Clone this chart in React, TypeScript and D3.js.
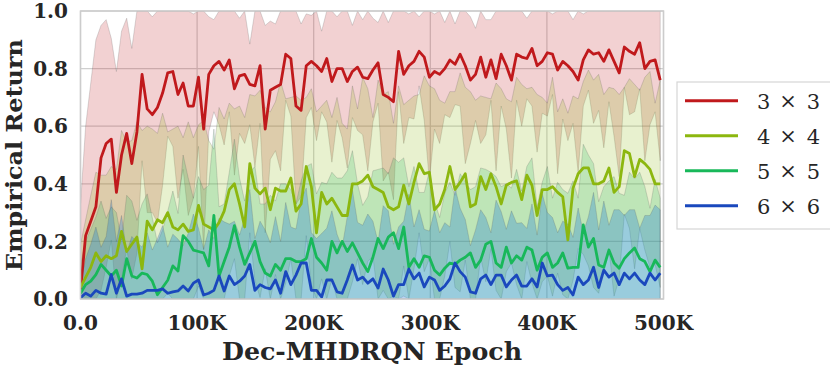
import * as d3 from "d3";

// mean empirical return per logged epoch, one array per grid size
const ret3x3 = [
  0.03, 0.22, 0.27, 0.32, 0.49, 0.54, 0.555, 0.37, 0.5, 0.575, 0.47, 0.58,
  0.78, 0.66, 0.64, 0.665, 0.715, 0.785, 0.79, 0.71, 0.75, 0.67, 0.67, 0.77,
  0.59, 0.78, 0.81, 0.825, 0.795, 0.83, 0.73, 0.775, 0.78, 0.745, 0.74, 0.81,
  0.59, 0.725, 0.735, 0.745, 0.85, 0.835, 0.67, 0.655, 0.81, 0.825, 0.81, 0.79,
  0.835, 0.755, 0.8, 0.8, 0.755, 0.79, 0.805, 0.77, 0.765, 0.795, 0.82, 0.71,
  0.7, 0.685, 0.86, 0.78, 0.81, 0.825, 0.86, 0.84, 0.77, 0.79, 0.78, 0.8,
  0.83, 0.815, 0.85, 0.81, 0.76, 0.78, 0.84, 0.77, 0.83, 0.765, 0.85, 0.81,
  0.76, 0.85, 0.84, 0.835, 0.87, 0.81, 0.825, 0.855, 0.85, 0.795, 0.825, 0.81,
  0.79, 0.76, 0.83, 0.865, 0.85, 0.855, 0.825, 0.865, 0.825, 0.785, 0.875, 0.86,
  0.85, 0.89, 0.8, 0.825, 0.83, 0.76,
];
const ret4x4 = [
  0.04, 0.075, 0.11, 0.16, 0.13, 0.15, 0.14, 0.15, 0.235, 0.165, 0.19, 0.215,
  0.105, 0.27, 0.24, 0.275, 0.265, 0.3, 0.25, 0.24, 0.26, 0.235, 0.24, 0.325,
  0.26, 0.25, 0.24, 0.265, 0.305, 0.38, 0.4, 0.33, 0.25, 0.47, 0.385, 0.365,
  0.385, 0.31, 0.385, 0.375, 0.375, 0.42, 0.305, 0.33, 0.46, 0.39, 0.23, 0.37,
  0.33, 0.35, 0.32, 0.29, 0.29, 0.4, 0.4, 0.41, 0.43, 0.39, 0.38, 0.37,
  0.32, 0.31, 0.32, 0.395, 0.33, 0.405, 0.47, 0.435, 0.44, 0.31, 0.33, 0.38,
  0.46, 0.38, 0.405, 0.435, 0.32, 0.33, 0.425, 0.38, 0.435, 0.39, 0.33, 0.395,
  0.405, 0.41, 0.345, 0.43, 0.395, 0.29, 0.38, 0.38, 0.39, 0.37, 0.355, 0.205,
  0.385, 0.435, 0.455, 0.455, 0.4, 0.4, 0.41, 0.455, 0.37, 0.39, 0.515, 0.505,
  0.425, 0.485, 0.47, 0.45, 0.4, 0.4,
];
const ret5x5 = [
  0.02, 0.05, 0.062, 0.085, 0.12, 0.1, 0.08, 0.1, 0.045, 0.14, 0.08, 0.073,
  0.09, 0.085, 0.062, 0.015, 0.04, 0.065, 0.115, 0.097, 0.22, 0.2, 0.17, 0.165,
  0.16, 0.115, 0.29, 0.08, 0.13, 0.18, 0.255, 0.18, 0.12, 0.16, 0.2, 0.13,
  0.09, 0.08, 0.12, 0.1, 0.14, 0.14, 0.13, 0.13, 0.14, 0.21, 0.145, 0.125,
  0.1, 0.2, 0.16, 0.2, 0.165, 0.195, 0.16, 0.125, 0.095, 0.145, 0.21, 0.175,
  0.215, 0.23, 0.175, 0.25, 0.11, 0.14, 0.11, 0.15, 0.145, 0.1, 0.083, 0.107,
  0.125, 0.12, 0.135, 0.145, 0.16, 0.11, 0.135, 0.19, 0.2, 0.125, 0.11, 0.18,
  0.125, 0.15, 0.135, 0.18, 0.17, 0.1, 0.145, 0.16, 0.11, 0.125, 0.16, 0.107,
  0.11, 0.11, 0.257, 0.18, 0.21, 0.118, 0.11, 0.17, 0.125, 0.107, 0.14, 0.16,
  0.177, 0.14, 0.13, 0.095, 0.135, 0.11,
];
const ret6x6 = [
  0.005, 0.02, 0.01, 0.03, 0.02, 0.017, 0.085, 0.02, 0.07, 0.01, 0.017, 0.017,
  0.02, 0.03, 0.03, 0.03, 0.035, 0.02, 0.025, 0.028, 0.045, 0.028, 0.055, 0.066,
  0.014, 0.02, 0.03, 0.08, 0.028, 0.08, 0.05, 0.062, 0.08, 0.12, 0.03, 0.05,
  0.04, 0.035, 0.066, 0.02, 0.095, 0.05, 0.083, 0.125, 0.125, 0.03, 0.03, 0.007,
  0.066, 0.066, 0.025, 0.02, 0.066, 0.118, 0.066, 0.076, 0.055, 0.07, 0.038, 0.104,
  0.066, 0.01, 0.05, 0.05, 0.104, 0.07, 0.09, 0.042, 0.076, 0.066, 0.03, 0.045,
  0.07, 0.125, 0.095, 0.076, 0.025, 0.02, 0.07, 0.083, 0.05, 0.083, 0.083, 0.042,
  0.066, 0.083, 0.045, 0.045, 0.07, 0.042, 0.125, 0.08, 0.083, 0.05, 0.03, 0.04,
  0.014, 0.076, 0.05, 0.066, 0.11, 0.04, 0.1, 0.076, 0.09, 0.05, 0.09, 0.07,
  0.09, 0.066, 0.05, 0.09, 0.066, 0.09,
];

// spread (std) around each mean
const sd3x3 = [
  0.3, 0.38, 0.48, 0.58, 0.46, 0.43, 0.35, 0.42, 0.43, 0.4, 0.4, 0.42,
  0.3, 0.36, 0.34, 0.4, 0.32, 0.22, 0.26, 0.36, 0.3, 0.38, 0.32, 0.24,
  0.42, 0.2, 0.16, 0.22, 0.26, 0.18, 0.3, 0.2, 0.24, 0.14, 0.28, 0.2,
  0.36, 0.24, 0.22, 0.3, 0.16, 0.2, 0.34, 0.3, 0.18, 0.16, 0.26, 0.14,
  0.22, 0.28, 0.18, 0.24, 0.3, 0.16, 0.22, 0.2, 0.32, 0.18, 0.14, 0.3,
  0.26, 0.34, 0.14, 0.24, 0.18, 0.2, 0.12, 0.22, 0.36, 0.2, 0.24, 0.16,
  0.2, 0.14, 0.18, 0.34, 0.22, 0.16, 0.3, 0.2, 0.14, 0.32, 0.18, 0.22,
  0.34, 0.16, 0.24, 0.14, 0.2, 0.3, 0.18, 0.22, 0.14, 0.36, 0.2, 0.26,
  0.18, 0.32, 0.16, 0.14, 0.24, 0.2, 0.3, 0.18, 0.26, 0.36, 0.14, 0.22,
  0.2, 0.16, 0.32, 0.22, 0.18, 0.28,
];
const sd4x4 = [
  0.15, 0.2, 0.25, 0.28, 0.3, 0.28, 0.32, 0.3, 0.35, 0.38, 0.36, 0.4,
  0.48, 0.33, 0.35, 0.3, 0.38, 0.28, 0.34, 0.36, 0.3, 0.38, 0.32, 0.28,
  0.36, 0.3, 0.28, 0.4, 0.32, 0.3, 0.26, 0.34, 0.38, 0.24, 0.32, 0.36,
  0.28, 0.34, 0.3, 0.38, 0.32, 0.28, 0.4, 0.36, 0.24, 0.34, 0.42, 0.3,
  0.36, 0.28, 0.38, 0.32, 0.3, 0.34, 0.26, 0.36, 0.3, 0.24, 0.38, 0.34,
  0.4, 0.3, 0.42, 0.28, 0.36, 0.3, 0.24, 0.34, 0.3, 0.42, 0.36, 0.3,
  0.26, 0.34, 0.38, 0.3, 0.4, 0.36, 0.28, 0.32, 0.26, 0.36, 0.4, 0.3,
  0.28, 0.36, 0.4, 0.3, 0.34, 0.42, 0.32, 0.3, 0.38, 0.28, 0.34, 0.44,
  0.32, 0.26, 0.3, 0.34, 0.36, 0.38, 0.3, 0.28, 0.36, 0.32, 0.22, 0.26,
  0.32, 0.24, 0.3, 0.34, 0.28, 0.36,
];
const sd5x5 = [
  0.1, 0.15, 0.18, 0.2, 0.22, 0.18, 0.24, 0.2, 0.16, 0.22, 0.26, 0.2,
  0.24, 0.28, 0.22, 0.18, 0.2, 0.24, 0.26, 0.2, 0.28, 0.22, 0.18, 0.26,
  0.22, 0.28, 0.3, 0.24, 0.2, 0.26, 0.3, 0.24, 0.22, 0.28, 0.26, 0.2,
  0.24, 0.28, 0.22, 0.3, 0.26, 0.24, 0.2, 0.28, 0.32, 0.26, 0.22, 0.28,
  0.3, 0.24, 0.26, 0.22, 0.28, 0.32, 0.24, 0.2, 0.26, 0.3, 0.24, 0.28,
  0.22, 0.26, 0.3, 0.24, 0.28, 0.32, 0.26, 0.22, 0.3, 0.24, 0.2, 0.26,
  0.28, 0.24, 0.3, 0.26, 0.22, 0.28, 0.32, 0.26, 0.24, 0.3, 0.28, 0.22,
  0.26, 0.3, 0.24, 0.28, 0.32, 0.22, 0.26, 0.3, 0.24, 0.28, 0.22, 0.26,
  0.3, 0.24, 0.28, 0.32, 0.26, 0.22, 0.28, 0.24, 0.3, 0.26, 0.22, 0.28,
  0.24, 0.3, 0.26, 0.22, 0.28, 0.24,
];
const sd6x6 = [
  0.05, 0.12, 0.18, 0.22, 0.16, 0.2, 0.26, 0.18, 0.22, 0.15, 0.2, 0.18,
  0.16, 0.2, 0.14, 0.18, 0.22, 0.16, 0.2, 0.18, 0.14, 0.2, 0.24, 0.18,
  0.16, 0.22, 0.18, 0.2, 0.24, 0.18, 0.22, 0.16, 0.2, 0.26, 0.18, 0.22,
  0.2, 0.16, 0.22, 0.18, 0.24, 0.2, 0.16, 0.22, 0.26, 0.2, 0.18, 0.22,
  0.18, 0.24, 0.2, 0.16, 0.22, 0.26, 0.2, 0.18, 0.24, 0.2, 0.16, 0.22,
  0.24, 0.18, 0.2, 0.22, 0.26, 0.18, 0.22, 0.2, 0.16, 0.24, 0.2, 0.22,
  0.18, 0.26, 0.22, 0.2, 0.16, 0.22, 0.24, 0.2, 0.18, 0.26, 0.22, 0.2,
  0.24, 0.18, 0.22, 0.2, 0.26, 0.18, 0.24, 0.22, 0.2, 0.18, 0.24, 0.22,
  0.2, 0.24, 0.18, 0.22, 0.26, 0.2, 0.24, 0.18, 0.22, 0.26, 0.2, 0.24,
  0.22, 0.18, 0.24, 0.2, 0.26, 0.22,
];

const LOG_EVERY = 4400; // epochs between logged points
const legendLabels = ["3 × 3", "4 × 4", "5 × 5", "6 × 6"];
const xTicks = [0, 100000, 200000, 300000, 400000, 500000];
const xTickLabels = ["0.0", "100K", "200K", "300K", "400K", "500K"];
const yTicks = [0, 0.2, 0.4, 0.6, 0.8, 1.0];
const yTickLabels = ["0.0", "0.2", "0.4", "0.6", "0.8", "1.0"];

const series = [
  { means: ret3x3, sd: sd3x3, line: "#c0191c", fill: "#c0191c", fillOpacity: 0.2 },
  { means: ret4x4, sd: sd4x4, line: "#8cb70f", fill: "#8cb70f", fillOpacity: 0.2 },
  { means: ret5x5, sd: sd5x5, line: "#18b85a", fill: "#18b85a", fillOpacity: 0.2 },
  { means: ret6x6, sd: sd6x6, line: "#1a48bd", fill: "#1878dc", fillOpacity: 0.3 },
];

const FONT = "DejaVu Serif, serif";
const INK = "#262626";

export default function App() {
  const W = 830;
  const H = 367;
  const left = 80.5, right = 663.5, top = 11, bottom = 299;

  const x = d3.scaleLinear().domain([0, 500000]).range([left, right]);
  const y = d3.scaleLinear().domain([0, 1]).range([bottom, top]);
  const clamp = (v: number) => Math.max(0, Math.min(1, v));

  const line = d3
    .line<number>()
    .x((_, i) => x(i * LOG_EVERY))
    .y((d) => y(d));

  const textStyle = { fontFamily: FONT, fontWeight: 700 };

  return (
    <svg
      width={W}
      height={H}
      style={{ position: "absolute", left: 0, top: 0, background: "#fff" }}
    >
      <defs>
        <clipPath id="plot">
          <rect x={left} y={top} width={right - left} height={bottom - top} />
        </clipPath>
      </defs>

      {/* grid */}
      <g stroke="#cfcfcf" strokeWidth={1.2}>
        {xTicks.map((t) => (
          <line key={"gx" + t} x1={x(t)} x2={x(t)} y1={top} y2={bottom} />
        ))}
        {yTicks.map((t) => (
          <line key={"gy" + t} x1={left} x2={right} y1={y(t)} y2={y(t)} />
        ))}
      </g>

      {/* bands */}
      <g clipPath="url(#plot)">
        {series.map((s, k) => {
          const area = d3
            .area<number>()
            .x((_, i) => x(i * LOG_EVERY))
            .y0((d, i) => y(clamp(d - s.sd[i])))
            .y1((d, i) => y(clamp(d + s.sd[i])));
          return (
            <path
              key={"band" + k}
              d={area(s.means) || ""}
              fill={s.fill}
              fillOpacity={s.fillOpacity}
              stroke="#555"
              strokeOpacity={0.3}
              strokeWidth={0.7}
            />
          );
        })}
        {series.map((s, k) => (
          <path
            key={"line" + k}
            d={line(s.means) || ""}
            fill="none"
            stroke={s.line}
            strokeWidth={2.8}
            strokeLinejoin="round"
          />
        ))}
      </g>

      {/* frame */}
      <rect
        x={left}
        y={top}
        width={right - left}
        height={bottom - top}
        fill="none"
        stroke="#cccccc"
        strokeWidth={1.5}
      />

      {/* tick labels */}
      <g fill={INK} fontSize={20} style={textStyle}>
        {yTicks.map((t, i) => (
          <text key={"yt" + t} x={68} y={y(t)} dy="0.36em" textAnchor="end">
            {yTickLabels[i]}
          </text>
        ))}
        {xTicks.map((t, i) => (
          <text key={"xt" + t} x={x(t)} y={330} textAnchor="middle">
            {xTickLabels[i]}
          </text>
        ))}
      </g>

      {/* axis labels */}
      <g fill={INK} style={textStyle}>
        <text
          x={(left + right) / 2}
          y={360}
          textAnchor="middle"
          fontSize={25}
          textLength={300}
          lengthAdjust="spacingAndGlyphs"
        >
          Dec-MHDRQN Epoch
        </text>
        <text
          transform={`translate(22,${(top + bottom) / 2}) rotate(-90)`}
          textAnchor="middle"
          fontSize={22}
          textLength={232}
          lengthAdjust="spacingAndGlyphs"
        >
          Empirical Return
        </text>
      </g>

      {/* legend */}
      <g>
        <rect x={677} y={82} width={170} height={147} fill="#fff" stroke="#d6d6d6" strokeWidth={1.2} />
        {series.map((s, k) => {
          const cy = 100.7 + k * 35;
          const [a, b] = legendLabels[k].split(" × ");
          return (
            <g key={"lg" + k}>
              <line x1={685} x2={738} y1={cy} y2={cy} stroke={s.line} strokeWidth={3} />
              <g fill={INK} fontSize={21} style={{ fontFamily: FONT }}>
                <text x={757} y={cy + 8}>{a}</text>
                <text x={788} y={cy + 7} textAnchor="middle">×</text>
                <text x={820} y={cy + 8} textAnchor="end">{b}</text>
              </g>
            </g>
          );
        })}
      </g>
    </svg>
  );
}
